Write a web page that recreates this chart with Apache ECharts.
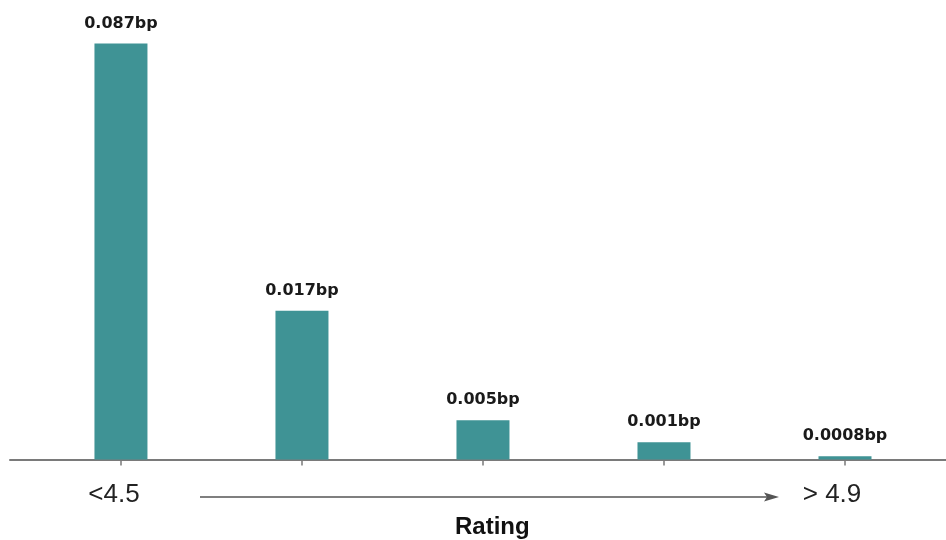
<!DOCTYPE html>
<html>
<head>
<meta charset="utf-8">
<script src="https://cdn.jsdelivr.net/npm/echarts@6/dist/echarts.min.js"></script>
<style>html,body{margin:0;padding:0;background:#fff;}#c{width:946px;height:540px;}</style>
</head>
<body>
<div id="c"></div>
<script>
// Category positions (0 = "<4.5" ... 4 = "> 4.9")
var categories = ['<4.5', '', '', '', '> 4.9'];
// Values printed above the bars (bp)
var labelValues = [0.087, 0.017, 0.005, 0.001, 0.0008];
// Bar heights as drawn in the picture (not to a linear scale of the labels)
var barHeights = [0.087, 0.0311, 0.0082, 0.0036, 0.0007];
var axisTitle = 'Rating';

var chart = echarts.init(document.getElementById('c'), null, {renderer: 'canvas'});
var teal = '#3F9395';
var pos = categories.map(function (c, i) { return i; });

chart.setOption({
  animation: false,
  backgroundColor: '#ffffff',
  title: {
    text: axisTitle,
    left: 450, top: 510,
    textStyle: {fontFamily: 'Liberation Sans', fontWeight: 'bold', fontSize: 24, color: '#111'}
  },
  grid: {left: 10, right: 0, top: 43.5, bottom: 80.5, containLabel: false},
  xAxis: {
    type: 'value',
    min: -0.613, max: 4.558,
    splitLine: {show: false},
    axisLine: {show: true, lineStyle: {color: '#7a7a7a', width: 2}},
    axisTick: {show: true, length: 6, customValues: pos, lineStyle: {color: '#7a7a7a', width: 1.5}},
    axisLabel: {
      show: true,
      customValues: [0, 4],
      margin: 22,
      fontFamily: 'Liberation Sans', fontSize: 26, color: '#222',
      formatter: function (v) {
        var i = Math.round(v);
        return i === 0 ? '{a|' + categories[i] + '}' : '{b|' + categories[i] + '}';
      },
      rich: {
        a: {fontFamily: 'Liberation Sans', fontSize: 26, color: '#222', padding: [0, 14, 0, 0]},
        b: {fontFamily: 'Liberation Sans', fontSize: 26, color: '#222', padding: [0, 26, 0, 0]}
      }
    }
  },
  yAxis: {
    type: 'value', min: 0, max: 0.087, show: false,
    splitLine: {show: false}
  },
  series: [{
    type: 'bar',
    barWidth: 53,
    itemStyle: {color: teal},
    data: barHeights.map(function (h, i) { return [pos[i], h]; }),
    label: {
      show: true, position: 'top', distance: 12,
      fontFamily: 'DejaVu Sans', fontWeight: 'bold', fontSize: 16, color: '#1a1a1a',
      formatter: function (p) { return labelValues[p.dataIndex] + 'bp'; }
    },
    z: 1
  }],
  graphic: [
    {type: 'line', shape: {x1: 200, y1: 497, x2: 772, y2: 497}, style: {stroke: '#555', lineWidth: 1.5}},
    {type: 'polygon', shape: {points: [[764, 492.5], [779, 497], [764, 501.5], [767, 497]]}, style: {fill: '#555'}}
  ]
});
</script>
</body>
</html>
